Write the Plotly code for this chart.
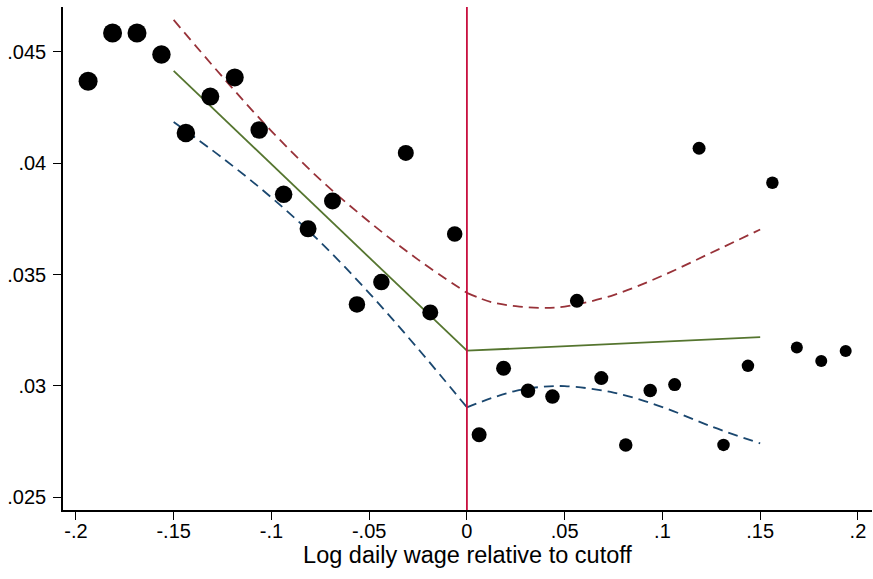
import plotly.graph_objects as go

# ---- data ----
bin_x = [-0.19375, -0.18125, -0.16875, -0.15625, -0.14375, -0.13125, -0.11875, -0.10625,
         -0.09375, -0.08125, -0.06875, -0.05625, -0.04375, -0.03125, -0.01875, -0.00625,
         0.00625, 0.01875, 0.03125, 0.04375, 0.05625, 0.06875, 0.08125, 0.09375,
         0.10625, 0.11875, 0.13125, 0.14375, 0.15625, 0.16875, 0.18125, 0.19375]
bin_y = [0.04368, 0.04584, 0.04584, 0.04488, 0.04135, 0.04299, 0.04385, 0.04149,
         0.03860, 0.03705, 0.03830, 0.03366, 0.03466, 0.04046, 0.03330, 0.03682,
         0.02781, 0.03079, 0.02978, 0.02952, 0.03382, 0.03035, 0.02735, 0.02979,
         0.03006, 0.04067, 0.02735, 0.03090, 0.03912, 0.03172, 0.03112, 0.03157]
bin_size = [19, 19, 19, 18.5, 18.5, 18, 18, 17.5, 17.5, 17, 17, 16.5, 16.5, 16, 16, 15.5,
            15, 15, 14.5, 14.5, 14, 14, 13.5, 13.5, 13, 13, 12.5, 12.5, 12.5, 12, 12, 12]

fit_left_x = [-0.15, 0.0]
fit_left_y = [0.04414, 0.03158]
fit_right_x = [0.0, 0.15]
fit_right_y = [0.03158, 0.03219]

ci_left_x = [-0.15, -0.125, -0.1, -0.075, -0.05, -0.025, 0.0]
ci_left_hi = [0.04643, 0.04387, 0.04144, 0.03926, 0.03737, 0.03567, 0.03418]
ci_left_lo = [0.04185, 0.04023, 0.03846, 0.03646, 0.03417, 0.03167, 0.02904]

ci_right_x = [0.0, 0.0125, 0.025, 0.0375, 0.05, 0.075, 0.1, 0.125, 0.15]
ci_right_hi = [0.03418, 0.03376, 0.03358, 0.03350, 0.03356, 0.03408, 0.03495, 0.03598, 0.03702]
ci_right_lo = [0.02904, 0.02945, 0.02978, 0.02995, 0.02999, 0.02970, 0.02905, 0.02818, 0.02742]

cutoff = 0.0

x_ticks = [-0.2, -0.15, -0.1, -0.05, 0, 0.05, 0.1, 0.15, 0.2]
x_tick_text = ["-.2", "-.15", "-.1", "-.05", "0", ".05", ".1", ".15", ".2"]
y_ticks = [0.025, 0.03, 0.035, 0.04, 0.045]
y_tick_text = [".025", ".03", ".035", ".04", ".045"]

RED = "#983239"
BLUE = "#1a476f"
GREEN = "#55752f"
VLINE = "#c8103e"
DASH = "10px,6px"
FONT = "Liberation Sans, Arial, sans-serif"

fig = go.Figure()

for xs, ys in [(ci_left_x, ci_left_hi), (ci_right_x, ci_right_hi)]:
    fig.add_trace(go.Scatter(x=xs, y=ys, mode="lines",
                             line=dict(color=RED, width=1.8, dash=DASH, shape="spline"),
                             showlegend=False, hoverinfo="skip"))
for xs, ys in [(ci_left_x, ci_left_lo), (ci_right_x, ci_right_lo)]:
    fig.add_trace(go.Scatter(x=xs, y=ys, mode="lines",
                             line=dict(color=BLUE, width=1.8, dash=DASH, shape="spline"),
                             showlegend=False, hoverinfo="skip"))
for xs, ys in [(fit_left_x, fit_left_y), (fit_right_x, fit_right_y)]:
    fig.add_trace(go.Scatter(x=xs, y=ys, mode="lines",
                             line=dict(color=GREEN, width=1.8),
                             showlegend=False, hoverinfo="skip"))

fig.add_trace(go.Scatter(x=bin_x, y=bin_y, mode="markers",
                         marker=dict(color="black", size=bin_size, opacity=1, line=dict(width=0)),
                         showlegend=False))

fig.add_vline(x=cutoff, line=dict(color=VLINE, width=1.8))

tick_font = dict(family=FONT, size=20, color="black")

fig.update_layout(
    width=873, height=579,
    margin=dict(l=63, r=1, t=7, b=69),
    paper_bgcolor="white", plot_bgcolor="white",
    font=tick_font,
    showlegend=False,
    xaxis=dict(range=[-0.2066, 0.2072], tickvals=x_ticks, ticktext=x_tick_text,
               showgrid=False, zeroline=False, showline=True, linecolor="black", linewidth=1.5,
               ticks="outside", ticklen=8, tickwidth=1.3, tickcolor="black",
               tickfont=tick_font, automargin=False, ticklabelstandoff=-6,
               title=dict(text="Log daily wage relative to cutoff",
                          font=dict(family=FONT, size=23.5, color="black"), standoff=2)),
    yaxis=dict(range=[0.02443, 0.04701], tickvals=y_ticks, ticktext=y_tick_text,
               showgrid=False, zeroline=False, showline=True, linecolor="black", linewidth=1.5,
               ticks="outside", ticklen=8, tickwidth=1.3, tickcolor="black",
               tickfont=tick_font, tickangle=0, automargin=False, ticklabelstandoff=3),
)

fig.write_html("out.html", config={"displayModeBar": False},
               post_script="document.body.style.margin='0';document.body.style.padding='0';")
